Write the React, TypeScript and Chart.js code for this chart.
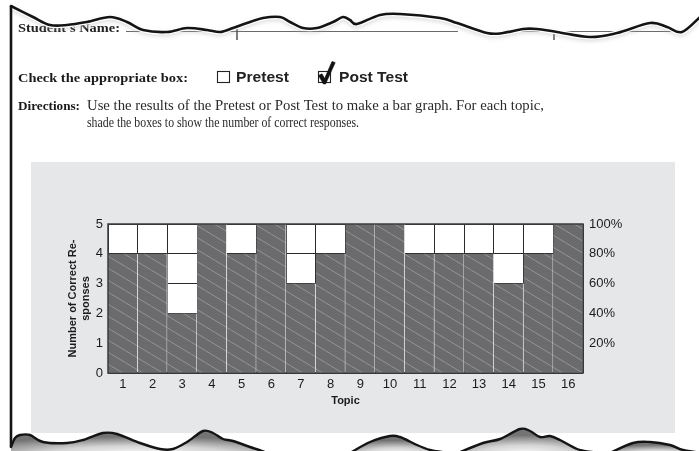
import React, { useEffect, useRef } from "react";
import { Chart, registerables } from "chart.js";

Chart.register(...registerables);

// ---- data ----
const topics = ["1", "2", "3", "4", "5", "6", "7", "8", "9", "10", "11", "12", "13", "14", "15", "16"];
const correctResponses = [4, 4, 2, 5, 4, 5, 3, 4, 5, 5, 4, 4, 4, 3, 4, 5];
const maxResponses = 5;
const percentTicks = ["20%", "40%", "60%", "80%", "100%"];

// ---- decorative outline points (torn paper edges) ----
const topEdge: number[][] = [
  [11, 6], [33, 17], [50, 25], [67, 25], [87, 22], [110, 17], [127, 22], [143, 30], [167, 32], [187, 28],
  [207, 30], [220, 32], [233, 28], [247, 23], [263, 18], [280, 17], [290, 22], [303, 28], [317, 28], [333, 22],
  [343, 17], [350, 20], [357, 24], [380, 15], [400, 14], [440, 18], [457, 23], [487, 33], [503, 33], [523, 29],
  [537, 29], [557, 32], [590, 37], [617, 33], [650, 23], [667, 27], [682, 32], [700, 17],
];
const hills: number[][][] = [
  [[11, 447], [15, 438], [20, 435], [30, 435], [43, 442], [67, 443], [83, 440], [103, 433], [117, 434], [140, 443],
   [160, 449], [173, 449], [187, 442], [203, 431], [213, 433], [223, 439], [233, 441], [250, 447], [268, 453]],
  [[350, 453], [370, 442], [390, 436], [400, 437], [417, 445], [430, 450], [442, 452]],
  [[458, 453], [483, 443], [500, 439], [520, 429], [530, 431], [540, 437], [550, 436], [560, 440], [577, 449], [592, 452]],
  [[610, 453], [633, 443], [650, 442], [670, 445], [683, 450], [702, 453]],
];

function smoothPath(pts: number[][]): string {
  let d = `M${pts[0][0]},${pts[0][1]}`;
  for (let i = 0; i < pts.length - 1; i++) {
    const p0 = pts[i - 1] || pts[i];
    const p1 = pts[i];
    const p2 = pts[i + 1];
    const p3 = pts[i + 2] || p2;
    const c1x = p1[0] + (p2[0] - p0[0]) / 6;
    const c1y = p1[1] + (p2[1] - p0[1]) / 6;
    const c2x = p2[0] - (p3[0] - p1[0]) / 6;
    const c2y = p2[1] - (p3[1] - p1[1]) / 6;
    d += ` C${c1x.toFixed(1)},${c1y.toFixed(1)} ${c2x.toFixed(1)},${c2y.toFixed(1)} ${p2[0]},${p2[1]}`;
  }
  return d;
}

function makePattern(): CanvasPattern | string {
  const c = document.createElement("canvas");
  c.width = 20;
  c.height = 12;
  const g = c.getContext("2d");
  if (!g) return "#6e6e70";
  g.fillStyle = "#6b6b6d";
  g.fillRect(0, 0, 20, 12);
  g.strokeStyle = "rgba(255,255,255,0.35)";
  g.lineWidth = 0.8;
  for (const a of [-20, 0, 20]) {
    g.beginPath();
    g.moveTo(a, 0);
    g.lineTo(a + 20, 12);
    g.stroke();
  }
  const p = g.createPattern(c, "repeat");
  return p || "#6e6e70";
}

const panelPlugin = {
  id: "panelPlugin",
  beforeDraw(chart: any) {
    const { ctx, chartArea: a } = chart;
    ctx.save();
    ctx.fillStyle = "#e6e7e8";
    ctx.fillRect(0, 0, chart.width, chart.height);
    ctx.fillStyle = "#ffffff";
    ctx.fillRect(a.left, a.top, a.right - a.left, a.bottom - a.top);
    ctx.restore();
  },
  afterDatasetsDraw(chart: any) {
    const { ctx, chartArea: a } = chart;
    ctx.save();
    ctx.strokeStyle = "#3c3c3c";
    ctx.lineWidth = 1.5;
    ctx.strokeRect(a.left, a.top, a.right - a.left, a.bottom - a.top);
    ctx.restore();
  },
};

const tickFont = { family: "'Liberation Sans', Arial, sans-serif", size: 13 };
const titleFont = { family: "'Liberation Sans', Arial, sans-serif", size: 11, weight: "bold" as const };

function BarChart() {
  const ref = useRef<HTMLCanvasElement | null>(null);
  useEffect(() => {
    if (!ref.current) return;
    const chart = new Chart(ref.current, {
      type: "bar",
      data: {
        labels: topics,
        datasets: [
          {
            data: correctResponses,
            backgroundColor: makePattern() as any,
            borderColor: "#f4f4f4",
            borderWidth: { left: 0, right: 1, top: 0, bottom: 0 } as any,
            borderSkipped: false,
            barPercentage: 1,
            categoryPercentage: 1,
            yAxisID: "y",
          },
        ],
      },
      options: {
        responsive: false,
        animation: false,
        devicePixelRatio: 1,
        layout: { padding: { top: 62, left: 0, right: 0, bottom: 0 } },
        plugins: { legend: { display: false }, tooltip: { enabled: false } },
        scales: {
          x: {
            offset: true,
            grid: { color: "#2a2a2a", lineWidth: 1, drawTicks: false, offset: true },
            border: { display: false },
            ticks: { color: "#1c1c1c", font: tickFont, padding: 4, maxRotation: 0 },
            title: { display: true, text: "Topic", color: "#1c1c1c", font: titleFont, padding: { top: 0, bottom: 25 } },
            afterFit: (s: any) => { s.height = 60; },
          },
          y: {
            position: "left",
            min: 0,
            max: maxResponses,
            ticks: { stepSize: 1, color: "#1c1c1c", font: tickFont, padding: 5 },
            grid: { color: "#2a2a2a", lineWidth: 1, drawTicks: false },
            border: { display: false },
            title: {
              display: true,
              text: ["Number of Correct Re-", "sponses"],
              color: "#1c1c1c",
              font: titleFont,
              padding: { top: 35, bottom: 0 },
            },
            afterFit: (s: any) => { s.width = 77; },
          },
          y2: {
            position: "right",
            min: 0,
            max: 100,
            ticks: {
              stepSize: 20,
              color: "#1c1c1c",
              font: tickFont,
              padding: 6,
              callback: (v: any) => (v === 0 ? "" : percentTicks[Math.round(v / 20) - 1]),
            },
            grid: { display: false, drawTicks: false },
            border: { display: false },
            afterFit: (s: any) => { s.width = 92; },
          },
        },
      },
      plugins: [panelPlugin],
    });
    return () => chart.destroy();
  }, []);
  return (
    <canvas
      ref={ref}
      width={644}
      height={271}
      style={{ position: "absolute", left: 31, top: 162, width: 644, height: 271 }}
    />
  );
}

const serif = "'Liberation Serif', 'Times New Roman', serif";
const sans = "'Liberation Sans', Arial, sans-serif";

export default function App() {
  return (
    <div
      style={{
        position: "absolute",
        left: 0,
        top: 0,
        width: 699,
        height: 451,
        background: "#ffffff",
        overflow: "hidden",
      }}
    >
      <BarChart />
      <svg
        width={699}
        height={451}
        style={{ position: "absolute", left: 0, top: 0 }}
      >
        <defs>
          <filter id="blur" x="-5%" y="-50%" width="110%" height="200%">
            <feGaussianBlur stdDeviation="2" />
          </filter>
          <radialGradient id="hill" cx="50%" cy="100%" r="75%">
            <stop offset="0" stopColor="#ffffff" />
            <stop offset="0.5" stopColor="#d4d4d4" />
            <stop offset="1" stopColor="#737373" />
          </radialGradient>
        </defs>

        {/* header text */}
        <text x={18} y={32} fontFamily={serif} fontSize={13.5} fontWeight="bold" fill="#222" textLength={102} lengthAdjust="spacingAndGlyphs">
          Student's Name:
        </text>
        <line x1={126} y1={31.5} x2={458} y2={31.5} stroke="#444" strokeWidth={0.8} />
        <line x1={505} y1={31.5} x2={682} y2={31.5} stroke="#444" strokeWidth={0.8} />
        <line x1={237} y1={29} x2={237} y2={40} stroke="#333" strokeWidth={1.3} />
        <line x1={554} y1={31} x2={554} y2={40} stroke="#333" strokeWidth={1.3} />

        <text x={18} y={82} fontFamily={serif} fontSize={13.5} fontWeight="bold" fill="#1a1a1a" textLength={170} lengthAdjust="spacingAndGlyphs">
          Check the appropriate box:
        </text>
        <rect x={217.5} y={71.5} width={12} height={11} fill="#fff" stroke="#222" strokeWidth={1.1} />
        <text x={236} y={82} fontFamily={sans} fontSize={15} fontWeight="bold" fill="#222" textLength={53} lengthAdjust="spacingAndGlyphs">
          Pretest
        </text>
        <rect x={318.5} y={71.5} width={12} height={11} fill="#fff" stroke="#222" strokeWidth={1.1} />
        <path d="M318.5,75.5 L322,73.8 L324.6,78.5 L332,61.5 L335.2,62.6 L325.6,84 L323.4,84 Z" fill="#111" stroke="#111" strokeWidth={0.6} strokeLinejoin="round" />
        <text x={339} y={82} fontFamily={sans} fontSize={15} fontWeight="bold" fill="#222" textLength={69} lengthAdjust="spacingAndGlyphs">
          Post Test
        </text>

        <text x={18} y={110} fontFamily={serif} fontSize={13.5} fontWeight="bold" fill="#1a1a1a" textLength={62} lengthAdjust="spacingAndGlyphs">
          Directions:
        </text>
        <text x={87} y={110} fontFamily={serif} fontSize={14} fill="#2a2a2a" textLength={457} lengthAdjust="spacingAndGlyphs">
          Use the results of the Pretest or Post Test to make a bar graph. For each topic,
        </text>
        <text x={87} y={127} fontFamily={serif} fontSize={14} fill="#2a2a2a" textLength={272} lengthAdjust="spacingAndGlyphs">
          shade the boxes to show the number of correct responses.
        </text>

        {/* torn top edge */}
        <path d={smoothPath(topEdge)} fill="none" stroke="#b0b0b0" strokeWidth={4} opacity={0.5} filter="url(#blur)" transform="translate(0,2)" />
        <path d={smoothPath(topEdge)} fill="none" stroke="#ffffff" strokeWidth={5} />
        <path d={smoothPath(topEdge)} fill="none" stroke="#141414" strokeWidth={2.6} strokeLinecap="round" />

        {/* left border */}
        <line x1={11} y1={6} x2={11} y2={447} stroke="#141414" strokeWidth={2.6} />

        {/* torn bottom edge */}
        {hills.map((h, i) => {
          const d = smoothPath(h);
          const last = h[h.length - 1];
          const first = h[0];
          return (
            <g key={i}>
              <path d={`${d} L${last[0]},455 L${first[0]},455 Z`} fill="url(#hill)" />
              <path d={d} fill="none" stroke="#141414" strokeWidth={2.4} strokeLinecap="round" />
            </g>
          );
        })}
      </svg>
    </div>
  );
}
